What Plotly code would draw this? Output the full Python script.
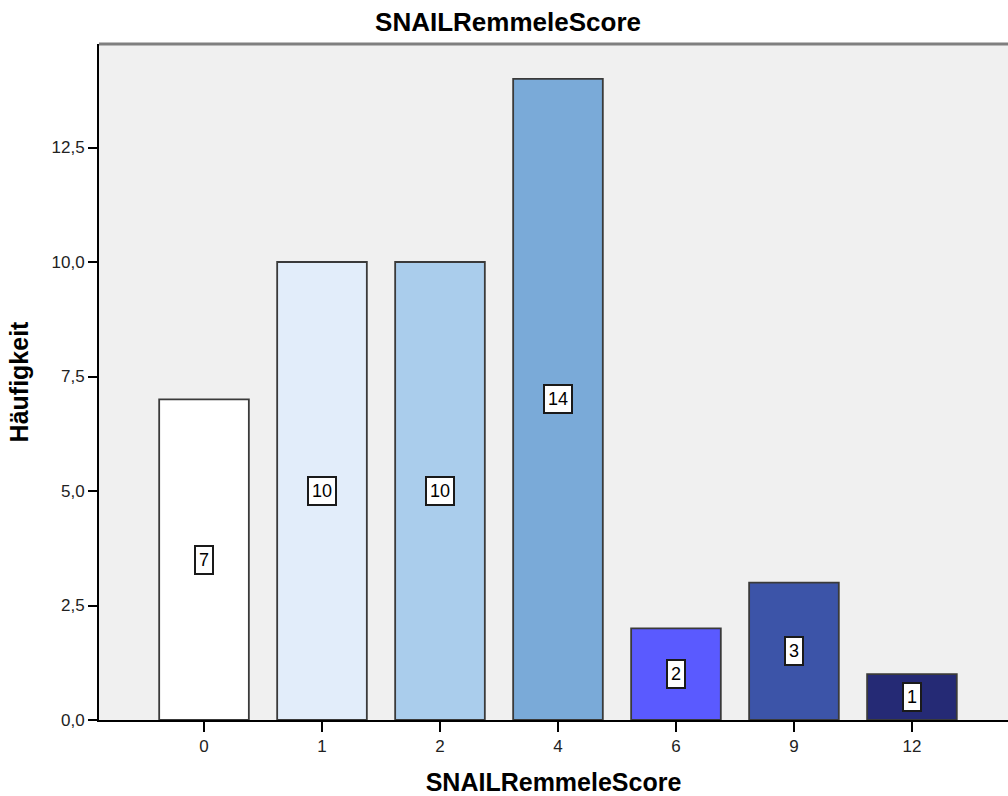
import plotly.graph_objects as go

# Frequency of each SNAILRemmeleScore value
categories = ["0", "1", "2", "4", "6", "9", "12"]
counts = [7, 10, 10, 14, 2, 3, 1]
bar_colors = ["#FFFFFF", "#E2EDFA", "#AACDEC", "#7AAAD8", "#5A5AFF", "#3C54A8", "#252A75"]

y_tick_vals = [0, 2.5, 5, 7.5, 10, 12.5]
y_tick_text = ["0,0", "2,5", "5,0", "7,5", "10,0", "12,5"]

font_family = "Liberation Sans, Arial, sans-serif"

fig = go.Figure(
    go.Bar(
        x=list(range(len(categories))),
        y=counts,
        width=0.76,
        marker=dict(color=bar_colors, line=dict(color="#3A3A3A", width=1.8)),
        hoverinfo="skip",
    )
)

# value labels in white boxes at the middle of each bar
for i, v in enumerate(counts):
    fig.add_annotation(
        x=i, y=v / 2, text=str(v), showarrow=False,
        font=dict(family=font_family, size=18, color="#000000"),
        bgcolor="#FFFFFF", bordercolor="#1A1A1A", borderwidth=2, borderpad=3,
    )

# grey frame line along the top of the plot area
fig.add_shape(type="line", xref="paper", yref="paper", x0=0, x1=1, y0=1, y1=1,
              line=dict(color="#7F7F7F", width=3))

fig.update_layout(
    width=1008, height=796,
    margin=dict(l=99, r=0, t=44, b=76),
    paper_bgcolor="#FFFFFF",
    plot_bgcolor="#F0F0F0",
    showlegend=False,
    font=dict(family=font_family, size=17, color="#000000"),
    title=dict(text="<b>SNAILRemmeleScore</b>", x=0.504, xanchor="center",
               y=0.972, yanchor="middle", font=dict(size=26, family=font_family)),
)

fig.update_xaxes(
    tickvals=list(range(len(categories))), ticktext=categories,
    range=[-0.89, 6.814],
    showgrid=False, zeroline=False,
    showline=True, linecolor="#000000", linewidth=1.8,
    ticks="outside", ticklen=10, tickcolor="#000000", tickwidth=1.8,
    tickfont=dict(size=17, color="#222222"),
    title=dict(text="<b>SNAILRemmeleScore</b>", font=dict(size=25), standoff=18),
)

fig.update_yaxes(
    tickvals=y_tick_vals, ticktext=y_tick_text,
    range=[0, 14.76],
    showgrid=False, zeroline=False,
    showline=True, linecolor="#000000", linewidth=1.8,
    ticks="outside", ticklen=9, tickcolor="#000000", tickwidth=1.8,
    tickfont=dict(size=17, color="#222222"),
    title=dict(text="<b>Häufigkeit</b>", font=dict(size=25), standoff=16),
)

fig.write_html("out.html")
